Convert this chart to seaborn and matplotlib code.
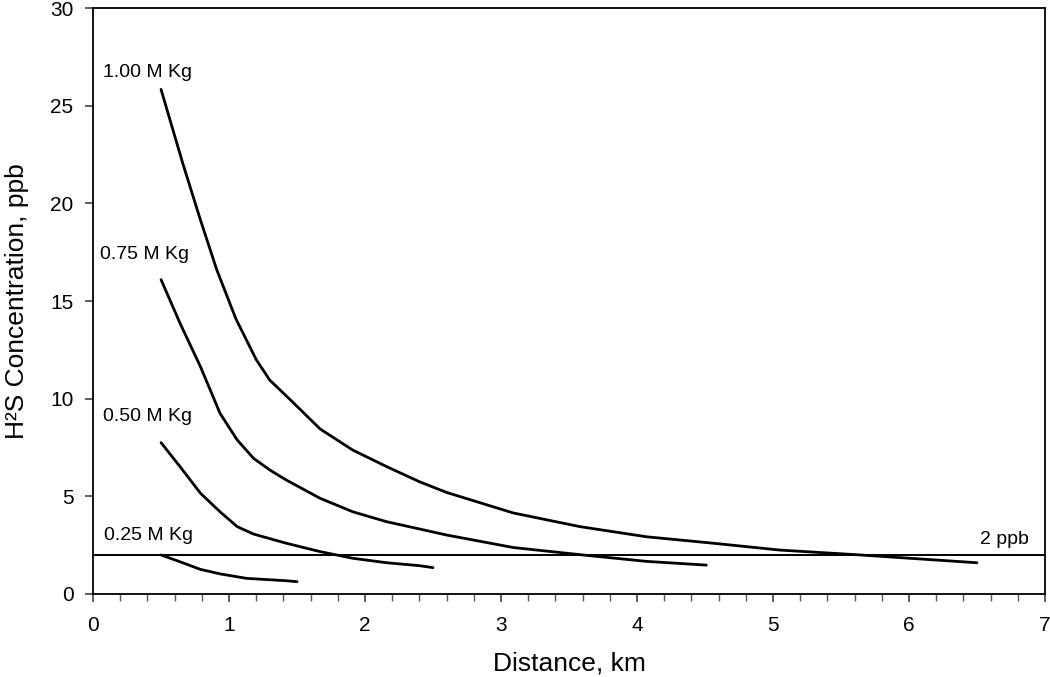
import matplotlib
matplotlib.use("Agg")
import matplotlib.pyplot as plt
from matplotlib.ticker import MultipleLocator
import pandas as pd
import seaborn as sns

# Valores (distância em km, concentração em ppb)
dist_100 = [0.5, 0.66, 0.79, 0.91, 1.05, 1.20, 1.30, 1.45, 1.67, 1.91, 2.16, 2.40,
            2.60, 3.09, 3.58, 4.07, 4.56, 5.05, 5.64, 6.5]
conc_100 = [25.84, 22.05, 19.15, 16.6, 14.1, 12.0, 10.95, 9.95, 8.45, 7.37, 6.52, 5.75,
            5.2, 4.15, 3.45, 2.93, 2.6, 2.25, 2.0, 1.6]

dist_075 = [0.5, 0.64, 0.79, 0.934, 1.06, 1.18, 1.30, 1.42, 1.67, 1.91, 2.16,
            2.40, 2.60, 3.09, 3.6, 4.07, 4.51]
conc_075 = [16.1, 13.86, 11.64, 9.25, 7.89, 6.95, 6.35, 5.84, 4.9, 4.21, 3.7,
            3.33, 3.02, 2.38, 2.0, 1.67, 1.48]

dist_050 = [0.5, 0.64, 0.79, 0.934, 1.06, 1.18, 1.42, 1.67, 1.91, 2.16, 2.40, 2.5]
conc_050 = [7.75, 6.52, 5.16, 4.21, 3.45, 3.07, 2.6, 2.17, 1.83, 1.6, 1.45, 1.35]

dist_025 = [0.5, 0.64, 0.79, 0.934, 1.13, 1.42, 1.5]
conc_025 = [2.0, 1.65, 1.26, 1.03, 0.8, 0.68, 0.63]

series_labels = ["1.00 M Kg", "0.75 M Kg", "0.50 M Kg", "0.25 M Kg"]
label_pos = [(0.07, 26.7), (0.05, 17.4), (0.07, 9.1), (0.08, 3.0)]
limit_ppb = 2

frames = []
for name, xs, ys in zip(series_labels,
                        [dist_100, dist_075, dist_050, dist_025],
                        [conc_100, conc_075, conc_050, conc_025]):
    frames.append(pd.DataFrame({"dist": xs, "conc": ys, "serie": name}))
df = pd.concat(frames, ignore_index=True)

sns.set_style("ticks")
plt.rcParams["font.family"] = ["Liberation Sans", "DejaVu Sans"]
plt.rcParams["text.color"] = "black"
plt.rcParams["axes.labelcolor"] = "black"

fig = plt.figure(figsize=(10.5, 6.77), dpi=100)
ax = fig.add_axes([0.0886, 0.1226, 0.9066, 0.8654])

sns.lineplot(data=df, x="dist", y="conc", units="serie", estimator=None,
             sort=False, color="black", lw=2.0, ax=ax, legend=False)
ax.axhline(limit_ppb, color="black", lw=1.4)

for name, (tx, ty) in zip(series_labels, label_pos):
    ax.text(tx, ty, name, fontsize=14, ha="left", va="center", color="black")
ax.text(6.88, 2.8, "2 ppb", fontsize=14, ha="right", va="center", color="black")

ax.set_xlim(0, 7)
ax.set_ylim(0, 30)
ax.xaxis.set_major_locator(MultipleLocator(1))
ax.xaxis.set_minor_locator(MultipleLocator(0.2))
ax.yaxis.set_major_locator(MultipleLocator(5))
ax.tick_params(axis="both", which="major", direction="out", length=6,
               width=1.1, labelsize=15, color="#333333", labelcolor="black")
ax.tick_params(axis="x", which="major", pad=10)
ax.tick_params(axis="y", which="major", pad=8)
ax.tick_params(axis="x", which="minor", direction="out", length=5,
               width=1.0, color="#555555")
for sp in ax.spines.values():
    sp.set_visible(True)
    sp.set_linewidth(1.3)
    sp.set_color("black")

ax.set_xlabel("Distance, km", fontsize=19, labelpad=12)
ax.set_ylabel("H²S Concentration, ppb", fontsize=19, labelpad=15)

fig.savefig("out.png", dpi=100)
plt.close()
